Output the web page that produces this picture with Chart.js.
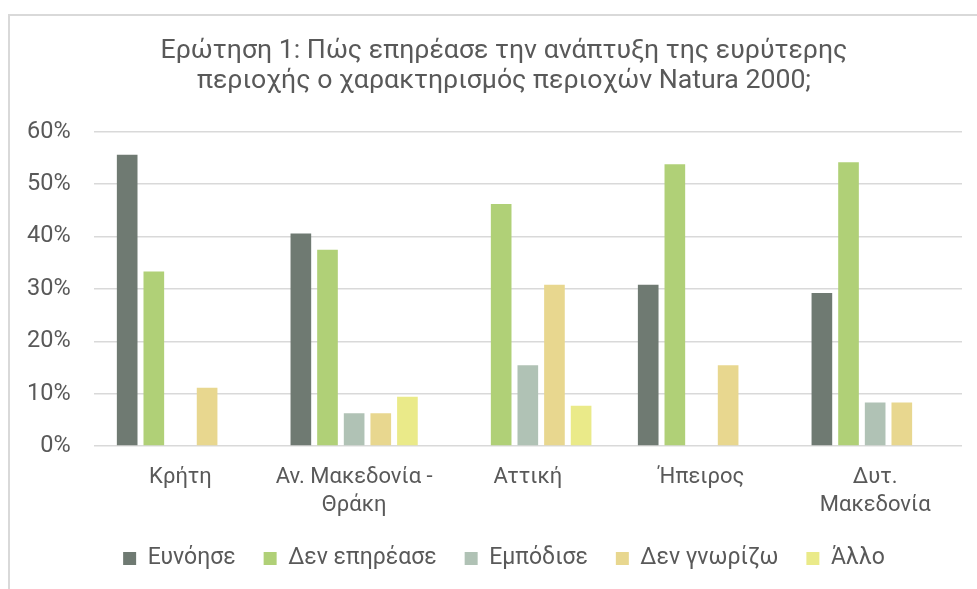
<!DOCTYPE html>
<html lang="el">
  <head>
    <meta charset="UTF-8" />
    <meta name="viewport" content="width=device-width, initial-scale=1.0" />
    <title>Natura 2000</title>
    <script src="https://cdn.jsdelivr.net/npm/chart.js"></script>
    <style>
      html,
      body {
        margin: 0;
        padding: 0;
        background: #fff;
        overflow: hidden;
      }
      .frame {
        position: absolute;
        left: 8px;
        top: 14px;
        width: 988px;
        height: 573px;
        border-top: 2px solid #d9d9d9;
        border-left: 2px solid #d9d9d9;
      }
    </style>
  </head>
  <body>
    <div class="frame">
      <canvas id="naturaChart" width="988" height="573"></canvas>
    </div>

    <script>
      // regions (x categories)
      const regions = [
        "Κρήτη",
        ["Αν. Μακεδονία -", "Θράκη"],
        "Αττική",
        "Ήπειρος",
        ["Δυτ.", "Μακεδονία"],
      ];

      // answers, % per region
      const favoured = [55.6, 40.6, 0, 30.8, 29.2];
      const noEffect = [33.3, 37.5, 46.2, 53.8, 54.2];
      const hindered = [0, 6.25, 15.4, 0, 8.3];
      const dontKnow = [11.1, 6.25, 30.8, 15.4, 8.3];
      const other = [0, 9.4, 7.7, 0, 0];

      const seriesNames = ["Ευνόησε", "Δεν επηρέασε", "Εμπόδισε", "Δεν γνωρίζω", "Άλλο"];
      const seriesColors = ["#6f7a72", "#b0d077", "#b0c2b5", "#e8d78f", "#eaea89"];
      const seriesValues = [favoured, noEffect, hindered, dontKnow, other];

      Chart.defaults.font.family = "Roboto";
      Chart.defaults.color = "#595959";

      const ctx = document.getElementById("naturaChart").getContext("2d");
      new Chart(ctx, {
        type: "bar",
        data: {
          labels: regions,
          datasets: seriesNames.map((name, i) => ({
            label: name,
            data: seriesValues[i],
            backgroundColor: seriesColors[i],
            borderWidth: 0,
            categoryPercentage: 0.767,
            barPercentage: 0.775,
          })),
        },
        options: {
          responsive: false,
          animation: false,
          layout: {
            // symmetric so title and legend stay centred on the frame
            padding: { left: 16, right: 16, top: 0, bottom: 9 },
          },
          plugins: {
            title: {
              display: true,
              text: [
                "Ερώτηση 1: Πώς επηρέασε την ανάπτυξη της ευρύτερης",
                "περιοχής ο χαρακτηρισμός περιοχών Natura 2000;",
              ],
              font: { size: 26.7, weight: "normal", lineHeight: 1.12 },
              color: "#595959",
              padding: { top: 20, bottom: 36 },
            },
            legend: {
              position: "bottom",
              labels: {
                boxWidth: 13,
                boxHeight: 13,
                padding: 28,
                font: { size: 23 },
                color: "#595959",
              },
            },
            tooltip: { enabled: false },
          },
          scales: {
            x: {
              grid: { display: false },
              border: { display: false },
              ticks: {
                font: { size: 22, lineHeight: 1.25 },
                color: "#595959",
                padding: 10,
                maxRotation: 0,
                autoSkip: false,
              },
              // labels sit closer to the legend than the default spacing
              afterFit: (scale) => {
                scale.height -= 10;
              },
            },
            y: {
              min: 0,
              max: 60,
              grid: { color: "#d9d9d9", lineWidth: 1.5, drawTicks: false },
              border: { display: false },
              ticks: {
                stepSize: 10,
                padding: 23,
                font: { size: 23.5 },
                color: "#595959",
                callback: (v) => v + "%",
              },
              // padding is counted twice in the axis width, drop one
              afterFit: (scale) => {
                scale.width -= 22;
              },
            },
            // empty right-hand strip, keeps the plot off the right edge
            yRight: {
              type: "linear",
              position: "right",
              min: 0,
              max: 1,
              grid: { display: false },
              border: { display: false },
              ticks: { display: false },
              afterFit: (scale) => {
                scale.width = 20;
              },
            },
          },
        },
      });
    </script>
  </body>
</html>
